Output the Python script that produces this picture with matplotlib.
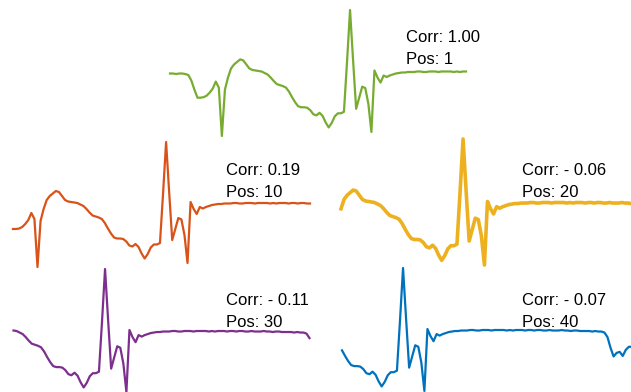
import numpy as np
import matplotlib.pyplot as plt

# one long trace (baseline ~0)
signal = [
    -0.02, -0.02, -0.03, -0.02, -0.02, -0.03, -0.05, -0.16, -0.34, -0.50,
    -0.50, -0.49, -0.46, -0.40, -0.32, -0.18, -0.30, -1.26, -0.34, -0.10,
    0.08, 0.16, 0.21, 0.26, 0.24, 0.16, 0.08, 0.05, 0.04, 0.03,
    0.02, -0.01, -0.04, -0.10, -0.17, -0.23, -0.25, -0.27, -0.30, -0.38,
    -0.49, -0.59, -0.67, -0.69, -0.69, -0.70, -0.75, -0.83, -0.85, -0.80,
    -0.86, -0.99, -1.09, -1.00, -0.87, -0.81, -0.81, -0.78, 0.20, 1.24,
    0.24, -0.72, -0.50, -0.28, -0.31, -0.62, -1.18, 0.04, -0.10, -0.20,
    -0.06, -0.09, -0.06, -0.04, -0.02, -0.01, 0.00, 0.00, 0.01, 0.01,
    0.01, 0.02, 0.02, 0.01, 0.01, 0.02, 0.02, 0.02, 0.01, 0.02,
    0.02, 0.02, 0.02, 0.01, 0.02, 0.01, 0.02, 0.02, 0.02, 0.01,
    0.02, 0.02, 0.01, 0.02, 0.02, 0.01, 0.01, 0.02, 0.01, 0.01,
    0.01, 0.02, 0.01, 0.01, 0.00, 0.01, 0.01, 0.00, 0.00, 0.00,
    0.00, -0.01, 0.00, -0.01, -0.01, -0.03, -0.12, -0.33, -0.50, -0.43,
    -0.41, -0.49, -0.37, -0.31, -0.31, -0.30, -0.30,
]
window = 98

positions = [1, 10, 20, 30, 40]
corrs = ["1.00", "0.19", "- 0.06", "- 0.11", "- 0.07"]
colors = ["#77AC30", "#D95319", "#EDB120", "#7E2F8E", "#0072BD"]
widths = [1.6, 1.6, 2.6, 1.6, 1.6]

# panel rects in pixels: left, top, width, height
rects = [(170, 10, 296, 126), (13, 142, 297, 125), (341, 139, 296, 126),
         (13.5, 269, 296, 123), (342, 268, 296, 123)]
text_xy = [(406, 42), (226, 175), (522, 175), (226, 305), (522, 305)]

W, H = 631, 392
fig = plt.figure(figsize=(W / 100, H / 100), dpi=100)
plt.rcParams['font.family'] = ['Liberation Sans', 'DejaVu Sans']

sig = np.array(signal)
for pos, corr, col, lw, rect, txy in zip(positions, corrs, colors, widths, rects, text_xy):
    l, t, w, h = rect
    ax = fig.add_axes([l / W, 1 - (t + h) / H, w / W, h / H])
    y = sig[pos - 1:pos - 1 + window]
    ax.plot(np.arange(len(y)), y, color=col, lw=lw, clip_on=False,
            solid_joinstyle='round')
    ax.margins(x=0, y=0)
    ax.axis('off')
    fig.text(txy[0] / W, 1 - txy[1] / H, f"Corr: {corr}", fontsize=12, va='baseline')
    fig.text(txy[0] / W, 1 - (txy[1] + 22) / H, f"Pos: {pos}", fontsize=12, va='baseline')

fig.savefig("out.png", dpi=100)
